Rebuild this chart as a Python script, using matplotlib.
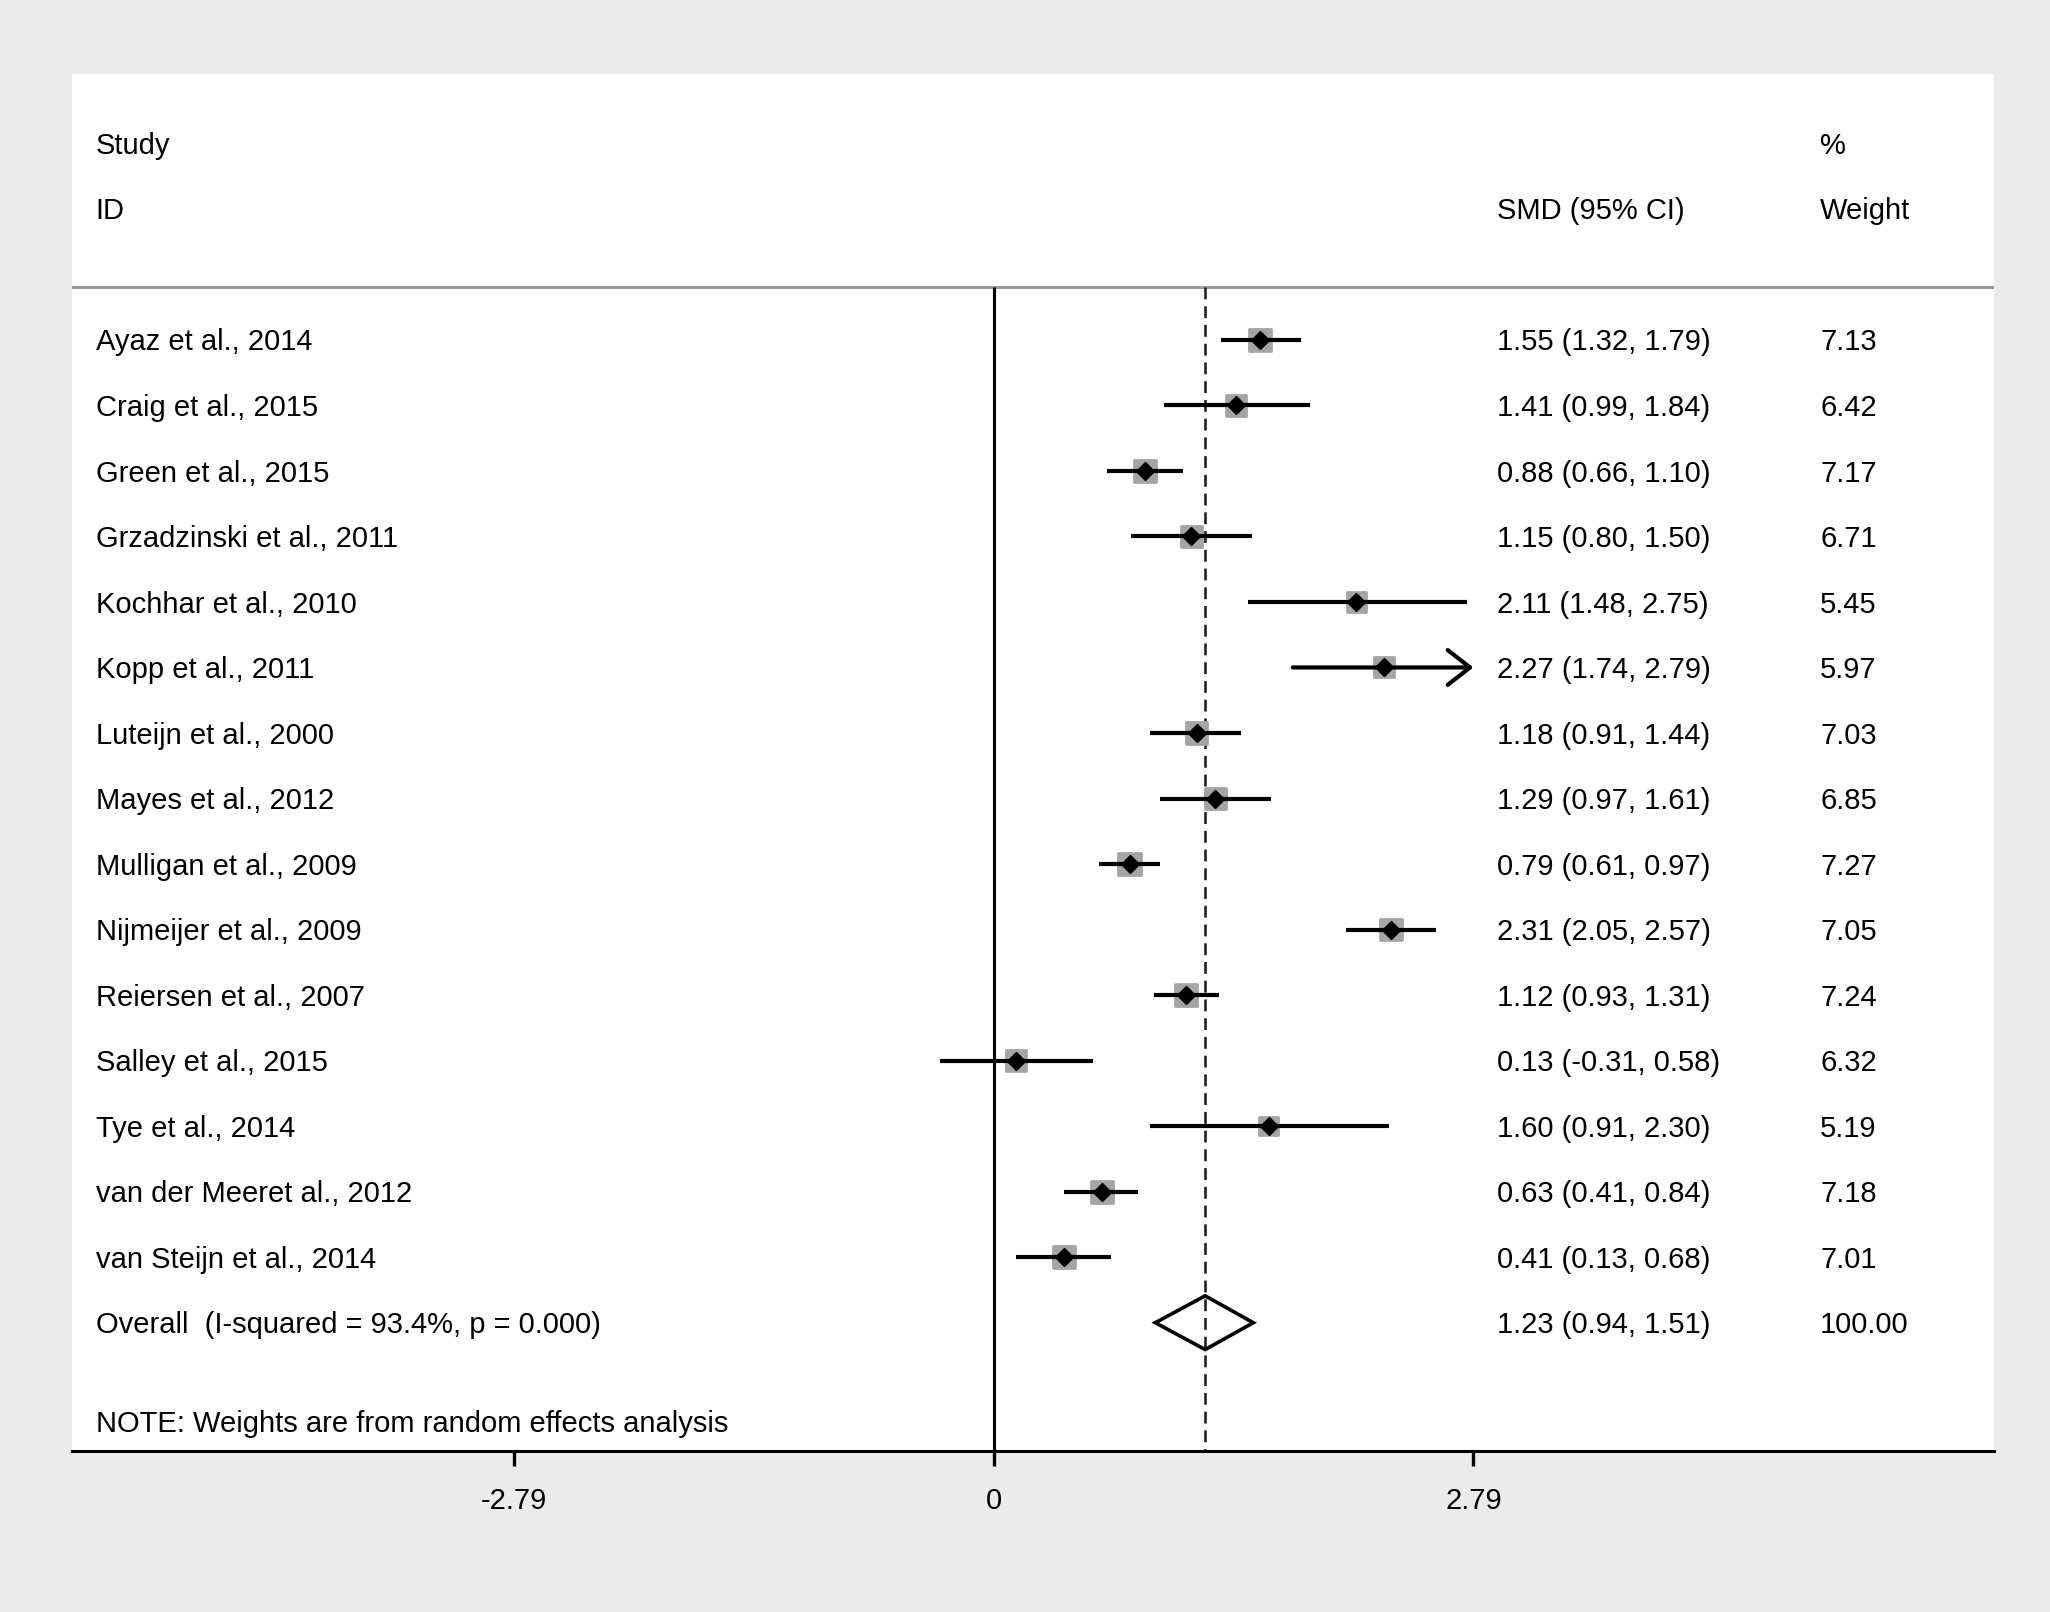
import matplotlib
matplotlib.use("Agg")
import matplotlib.pyplot as plt
import numpy as np

plt.rcParams['font.family'] = ['Liberation Sans', 'DejaVu Sans']

studies = ["Ayaz et al., 2014", "Craig et al., 2015", "Green et al., 2015",
           "Grzadzinski et al., 2011", "Kochhar et al., 2010", "Kopp et al., 2011",
           "Luteijn et al., 2000", "Mayes et al., 2012", "Mulligan et al., 2009",
           "Nijmeijer et al., 2009", "Reiersen et al., 2007", "Salley et al., 2015",
           "Tye et al., 2014", "van der Meeret al., 2012", "van Steijn et al., 2014"]
smd = [1.55, 1.41, 0.88, 1.15, 2.11, 2.27, 1.18, 1.29, 0.79, 2.31, 1.12, 0.13, 1.60, 0.63, 0.41]
lower = [1.32, 0.99, 0.66, 0.80, 1.48, 1.74, 0.91, 0.97, 0.61, 2.05, 0.93, -0.31, 0.91, 0.41, 0.13]
upper = [1.79, 1.84, 1.10, 1.50, 2.75, 2.79, 1.44, 1.61, 0.97, 2.57, 1.31, 0.58, 2.30, 0.84, 0.68]
weights = [7.13, 6.42, 7.17, 6.71, 5.45, 5.97, 7.03, 6.85, 7.27, 7.05, 7.24, 6.32, 5.19, 7.18, 7.01]

overall_label = "Overall  (I-squared = 93.4%, p = 0.000)"
overall = 1.23
overall_lo = 0.94
overall_hi = 1.51
overall_weight = "100.00"

tick_vals = [-2.79, 0, 2.79]
tick_labels = ["-2.79", "0", "2.79"]
note = "NOTE: Weights are from random effects analysis"

FS = 21
DY = 0.04  # small vertical text offset (rows)
fig = plt.figure(figsize=(20.5, 16.12), dpi=100, facecolor='#ebebeb')
ax = fig.add_axes([0.0351, 0.0998, 0.9375, 0.854])
ax.set_facecolor('white')
ax.set_xlim(-5.361, 5.817)
ax.set_ylim(16.96, -4.05)

for s in ['top', 'left', 'right']:
    ax.spines[s].set_visible(False)
ax.spines['bottom'].set_linewidth(2.2)
ax.spines['bottom'].set_color('black')
ax.set_yticks([])
ax.set_xticks(tick_vals)
ax.set_xticklabels(tick_labels, fontsize=FS)
ax.tick_params(axis='x', length=11, width=2.4, pad=15, color='black')

# header separator
ax.axhline(-0.8, color='#9a9a9a', lw=2.2)
# vertical lines
ax.vlines(0, -0.8, 16.96, color='black', lw=2.2)
ax.plot([overall, overall], [-0.8, 16.96], color='#222222', lw=1.9,
        linestyle=(0, (4.5, 2.6)))

xs_txt = -5.224
x_smd = 2.928
x_w = 4.806

def txt(x, y, s):
    ax.text(x, y + DY, s, fontsize=FS, va='center', ha='left')

txt(xs_txt, -3, "Study")
txt(xs_txt, -2, "ID")
txt(x_w, -3, "%")
txt(x_w, -2, "Weight")
txt(x_smd, -2, "SMD (95% CI)")

rows = np.arange(len(studies))
axis_max = tick_vals[-1]
for i, (name, m, lo, hi, w) in enumerate(zip(studies, smd, lower, upper, weights)):
    if hi >= axis_max:
        ax.annotate('', xy=(axis_max, i), xytext=(lo, i),
                    arrowprops=dict(arrowstyle='->,head_length=1.6,head_width=1.25',
                                    lw=3.0, color='black', shrinkA=0, shrinkB=0,
                                    mutation_scale=10), zorder=3)
    else:
        ax.plot([lo, hi], [i, i], color='black', lw=3.0, solid_capstyle='butt', zorder=3)
    txt(xs_txt, i, name)
    txt(x_smd, i, f"{m:.2f} ({lo:.2f}, {hi:.2f})")
    txt(x_w, i, f"{w:.2f}")

sizes = [(5.9 * np.sqrt(w)) ** 2 for w in weights]
ax.scatter(smd, rows, s=sizes, marker='s', color='#a5a5a5', edgecolors='#a5a5a5',
           linewidths=2, zorder=2)
ax.plot(smd, rows, linestyle='none', marker='D', markersize=9, color='black', zorder=4)

# overall
orow = len(studies)
ax.fill([overall_lo, overall, overall_hi, overall], [orow, orow - 0.41, orow, orow + 0.41],
        facecolor='none', edgecolor='black', lw=2.6, zorder=4)
txt(xs_txt, orow, overall_label)
txt(x_smd, orow, f"{overall:.2f} ({overall_lo:.2f}, {overall_hi:.2f})")
txt(x_w, orow, overall_weight)

txt(xs_txt, 16.5, note)

fig.savefig("out.png", dpi=100, facecolor=fig.get_facecolor())
